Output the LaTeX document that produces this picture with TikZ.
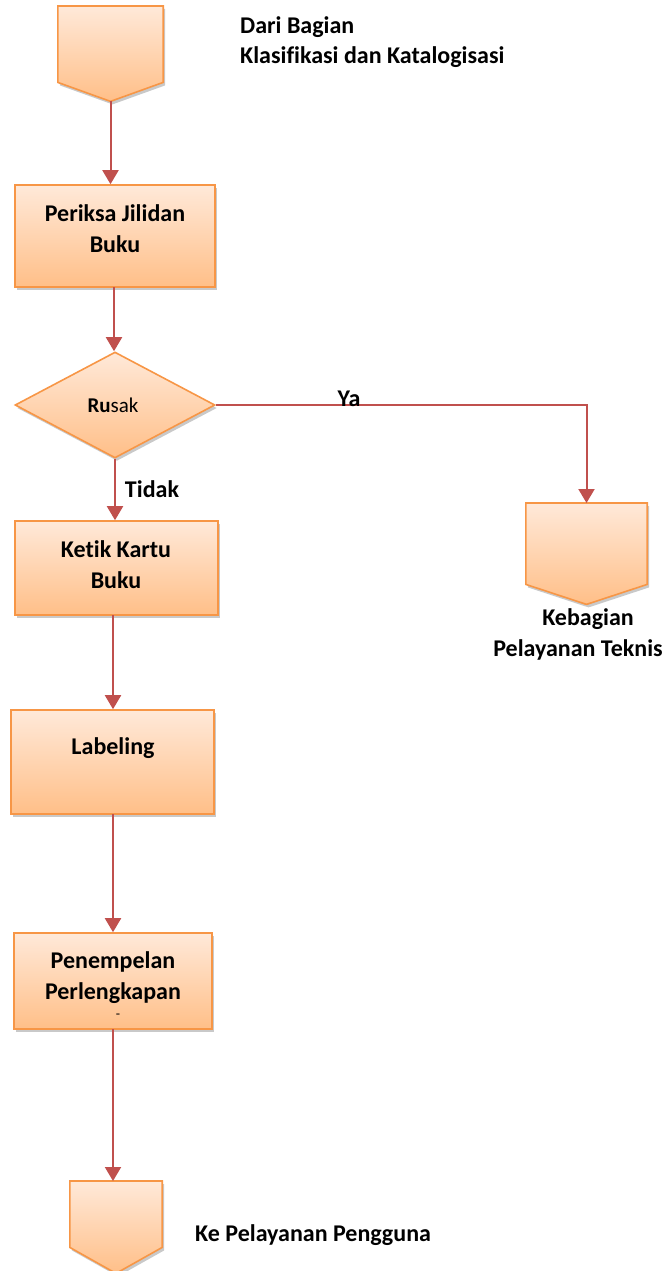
\documentclass[tikz,border=0pt]{standalone}
\usepackage{fontspec}
\setmainfont{Carlito}[Ligatures={NoCommon}]
\usetikzlibrary{shapes.geometric,shadows,arrows.meta,calc}
\definecolor{obord}{HTML}{F79646}
\definecolor{otop}{HTML}{FFE9D9}
\definecolor{obot}{HTML}{FFBF88}
\definecolor{arr}{HTML}{C0504D}
\tikzset{
  shapefill/.style={draw=obord, line width=1.6pt, top color=otop, bottom color=obot,
    drop shadow={shadow xshift=2pt, shadow yshift=-3pt, opacity=0.3, fill=black!70}},
  procbox/.style={shapefill, rectangle, inner sep=0pt},
  decbox/.style={shapefill, diamond, inner sep=0pt},
  pentbox/.style={inner sep=0pt, rectangle},
  conn/.style={draw=arr, line width=2pt, -{Triangle[width=16pt,length=14pt]}},
  lbl/.style={font=\bfseries\fontsize{24}{31}\selectfont, align=center, inner sep=0pt},
  lbll/.style={font=\bfseries\fontsize{24}{30}\selectfont, align=left, inner sep=0pt}
}
\begin{document}
\begin{tikzpicture}[x=1pt,y=-1pt]
\useasboundingbox (0,0) rectangle (668,1271);

% top pentagon
\node[pentbox, minimum width=105pt, minimum height=95pt, anchor=north] (p1) at (110.5,6) {};
\path[shapefill] (p1.north west) -- (p1.north east) -- ($(p1.south east)+(0,-19)$) -- (p1.south) -- ($(p1.south west)+(0,-19)$) -- cycle;
\node[lbll, anchor=north west] (t0) at (240,16) {Dari Bagian\\Klasifikasi dan Katalogisasi};

% box 1
\node[procbox, minimum width=200pt, minimum height=102pt] (b1) at (115,236) {};
\node[lbl] (t1) at (115,229) {Periksa Jilidan\\Buku};

% diamond
\node[decbox, minimum width=200pt, minimum height=106pt] (d) at (115,405) {};
\node[inner sep=0pt, font=\fontsize{21}{25}\selectfont] (td) at (113,405) {\textbf{Ru}sak};

% right pentagon
\node[pentbox, minimum width=121pt, minimum height=101pt, anchor=north] (p2) at (586.5,503) {};
\path[shapefill] (p2.north west) -- (p2.north east) -- ($(p2.south east)+(0,-20)$) -- (p2.south) -- ($(p2.south west)+(0,-20)$) -- cycle;
\node[lbl] (t2) at (578,634) {\hspace*{20pt}Kebagian\\Pelayanan Teknis};

% box 2
\node[procbox, minimum width=203pt, minimum height=94pt] (b2) at (116.5,568) {};
\node[lbl] (t3) at (116,565) {Ketik Kartu\\Buku};

% box 3
\node[procbox, minimum width=203pt, minimum height=104pt] (b3) at (112.5,762) {};
\node[lbl] (t4) at (113,748) {Labeling};

% box 4
\node[procbox, minimum width=198pt, minimum height=96pt] (b4) at (113,981) {};
\node[lbl] (t5) at (113,978) {Penempelan\\Perlengkapan};
\node[inner sep=0pt, font=\fontsize{14}{14}\selectfont] (t6) at (118,1016) {-};

% bottom pentagon
\node[pentbox, minimum width=92pt, minimum height=92pt, anchor=north] (p3) at (116,1181) {};
\path[shapefill] (p3.north west) -- (p3.north east) -- ($(p3.south east)+(0,-26)$) -- (p3.south) -- ($(p3.south west)+(0,-26)$) -- cycle;
\node[lbll, anchor=west] (t7) at (195,1235) {Ke Pelayanan Pengguna};

% connectors
\draw[conn] (p1.south) -- (p1.south |- b1.north);
\draw[conn] (114,287) coordinate (c1) -- (c1 |- d.north);
\draw[conn] (d.east) -| (p2.north);
\node[lbl] (ya) at (349,399) {Ya};
\draw[conn] (d.south) -- (d.south |- b2.north);
\node[lbl] (tidak) at (152,489) {Tidak};
\draw[conn] (113,615) coordinate (c2) -- (c2 |- b3.north);
\draw[conn] (113,814) coordinate (c3) -- (c3 |- b4.north);
\draw[conn] (113,1029) coordinate (c4) -- (c4 |- p3.north);
\end{tikzpicture}
\end{document}
